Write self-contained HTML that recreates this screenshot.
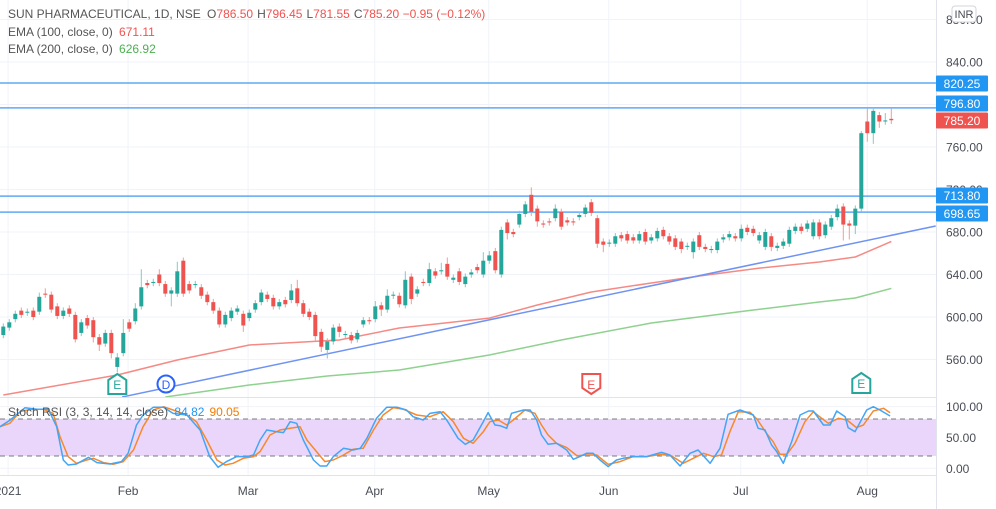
<!DOCTYPE html>
<html><head><meta charset="utf-8"><style>
html,body{margin:0;padding:0;background:#fff;overflow:hidden}
svg{display:block;font-family:"Liberation Sans",sans-serif}
</style></head><body>
<svg id="c" width="996" height="509" viewBox="0 0 996 509" xmlns="http://www.w3.org/2000/svg">
<defs>
<clipPath id="cp"><rect x="0" y="0" width="936" height="397"/></clipPath>
<clipPath id="cr"><rect x="0" y="399" width="936" height="76"/></clipPath>
</defs>
<g id="grid"></g>
<g id="rsiPane"></g>
<g id="pricePane" clip-path="url(#cp)"></g>
<g id="axes"></g>
<g id="legend">
<text x="8" y="18" font-size="12" fill="#555">SUN PHARMACEUTICAL, 1D, NSE <tspan dx="3">O</tspan><tspan fill="#ef5350">786.50</tspan><tspan dx="4">H</tspan><tspan fill="#ef5350">796.45</tspan><tspan dx="4">L</tspan><tspan fill="#ef5350">781.55</tspan><tspan dx="4">C</tspan><tspan fill="#ef5350">785.20 −0.95 (−0.12%)</tspan></text>
<text x="8" y="36" font-size="12" fill="#555">EMA (100, close, 0) <tspan dx="3" fill="#ef5350">671.11</tspan></text>
<text x="8" y="53" font-size="12" fill="#555">EMA (200, close, 0) <tspan dx="3" fill="#4caf50">626.92</tspan></text>
<text x="8" y="416" font-size="12" fill="#555">Stoch RSI (3, 3, 14, 14, close) <tspan dx="3" fill="#2196f3">84.82</tspan><tspan dx="5" fill="#f57c00">90.05</tspan></text>
</g>
</svg>
<script>
const opens=[583,590,598,606,604,606,605,622,621,610,601,608,602,585,599,597,581,575,585,553,566,595,596,610,632,632,640,631,622,622,653,631,630,628,621,614,606,593,599,605,603,599,607,614,621,618,610,616,616,627,613,605,602,586,569,577,591,583,583,579,593,597,598,611,607,620,620,611,638,622,633,632,643,643,650,635,643,631,640,647,640,653,662,640,689,680,687,697,715,702,688,690,693,699,691,690,694,697,708,693,671,669,669,677,678,675,672,680,672,674,682,676,674,671,666,661,677,666,663,663,673,675,676,674,684,683,672,666,676,665,667,669,681,685,683,676,689,677,685,694,704,688,686,702,784,773,790,784,786.5];
const closes=[591,595,603,602,605,600,619,621,607,601,606,603,579,595,592,581,574,585,566,562,585,589,608,628,630,633,632,622,625,643,622,625,631,620,614,606,593,602,606,608,592,604,613,623,617,610,614,612,625,613,603,600,582,572,577,590,586,584,578,585,597,596,610,607,620,621,612,635,617,626,632,645,639,644,638,637,633,638,642,644,653,658,644,682,679,678,697,706,699,690,687,689,702,685,689,689,696,703,698,669,668,670,676,674,672,672,678,671,675,681,676,671,666,664,667,671,666,664,664,671,675,678,674,683,680,679,677,680,666,667,671,682,685,681,688,689,676,687,693,702,687,686,702,773,773,794,784,785,785.2];
const wickUp=[3,3,3,3,3,3,4,5,3,3, 3,3,3,3,3,3,3,3,3,4, 13,3,5,17,3,3,5,3,3,9, 3,3,3,3,3,3,3,3,3,3, 3,3,3,3,3,3,3,3,6,8, 3,3,3,3,3,3,3,3,3,3, 3,3,5,3,6,3,3,8,3,3, 3,6,3,7,6,3,3,3,3,3, 8,4,3,3,3,3,3,3,7,3, 3,3,4,3,3,3,3,3,3,3, 3,3,3,3,3,3,3,3,3,3, 3,3,3,3,3,3,3,3,3,3, 3,3,3,4,3,3,3,3,3,3, 3,3,3,3,3,3,3,3,3,4, 3,3,3,2,12,3,3,7,10];
const wickDn=[3,3,3,3,3,3,3,3,3,3, 3,3,3,3,3,5,6,3,5,5, 3,3,3,3,3,3,3,3,12,3, 3,3,3,3,3,3,3,3,3,3, 6,3,3,3,3,3,3,3,3,3, 3,3,5,5,8,3,5,3,3,3, 3,3,3,6,3,3,3,3,5,3, 3,3,3,3,3,3,3,3,3,3, 3,3,3,3,6,3,3,3,4,5, 3,3,3,3,3,3,3,3,3,4, 7,3,3,3,3,3,3,3,3,3, 3,3,3,4,3,6,3,3,3,3, 3,3,3,3,3,3,3,3,4,3, 3,3,3,3,3,3,3,3,3,3, 15,13,8,3,8,10,6,3,3.6];
const ema100Idx=[1,20,30,42,57,67,82,90,99,109,117,127,137,143,149];
const ema100Val=[526.6,545.4,559.5,573.6,578.4,589.6,599,611.3,623.5,632,638.6,646,651.8,656.5,671.1];
const ema200Idx=[28,42,55,67,82,94,109,126,137,143,149];
const ema200Val=[524.7,536,544.5,550.1,564.2,578.4,594.4,606.6,614.1,617.9,626.9];
const trendIdx=[20.8,156.4];
const trendVal=[524.7,685.6];
const hLevels=[820.25,796.80,713.80,698.65];
const priceTicks=[880,840,800,760,720,680,640,600,560];
const kIdx=[0.45,2.1,4.6,6.6,8.5,9.9,11,11.8,13.2,15.2,16.6,18.8,20.7,21.8,23.2,24.3,26,27.7,29.3,31.6,33.8,35.4,36.8,38.2,39.9,41.6,42.7,43.8,44.9,46.6,47.7,48.8,49.9,51,52.7,53.8,54.9,56,57.7,59.3,60.5,61.6,63.2,64.9,66.6,68.2,69.3,71,72.1,73.8,74.9,76.8,78,79.3,81,81.8,82.95,83.8,84.9,85.7,87.7,88.8,89.9,90.7,91.8,93.2,94.9,96,97.1,98.2,99.3,100.45,101.8,103.2,104.3,106,108.2,110.7,112.1,113.8,115.45,116.8,118.8,120.45,121.8,123.8,126,126.8,127.95,129.05,129.9,131,132.4,133.8,135.2,136,137.7,138.8,139.9,141.3,141.8,142.95,144.9,146,147.1,148.8];
const kVal=[67.5,78,98,95.6,95.6,67.5,13.5,5.4,7,17.8,9.2,7,10.8,24.3,70.2,86.4,99,99,89,86.4,62,18.9,1.6,10.8,18.9,18.9,21.6,45.9,62,59.4,57.8,75.6,72.9,45.9,13.5,3.8,3.8,18.9,32.4,29.7,32.4,48.6,81,99,99,94.5,83.7,78.3,89,91.8,78.3,48.6,38.9,45.9,75.6,90.2,70.2,69.1,64.8,89.1,94.5,94.5,78.3,54,38.9,40.5,29.7,14.6,18.9,24.3,24.3,13.5,2.7,13.5,16.2,18.9,18.9,25.9,21.6,3.8,24.3,29.7,8.1,32.4,87.5,94.5,86.4,64.8,62.1,37.8,27,8.1,43.2,86.4,92.9,92.9,70.2,70.2,92.9,83.7,65.9,59.4,94.5,99.9,94.5,84.82];
const dIdx=[0.45,2.1,3.8,5.45,7.7,9.3,10.45,11.8,13.2,14.9,16,17.7,19.3,21,22.7,24.3,26,27.7,29.3,31.6,33.2,34.9,36.6,37.95,39.3,41,42.7,43.8,45.45,47.1,48.8,50.45,51.6,53.2,54.6,56,57.7,59.3,61,62.7,64.3,66,67.7,69.9,72.1,74.3,76,77.7,79.3,81,82.1,83.5,84.9,86,87.95,89.6,90.7,91.8,93.2,94.9,96.6,98.2,99.9,101.8,103.8,106,108.2,110.7,112.4,114.3,116,117.7,119.35,120.7,122.1,123.5,125.45,126.6,128.2,129.3,130.45,131.6,132.95,134.6,136,137.4,138.5,140.2,141.6,143.2,144.35,146,147.7,148.8];
const dVal=[67.5,72.9,91.8,95.6,95.6,89.1,51.3,18.9,8.1,13.5,16.2,9.2,6.5,10.8,29.7,67.5,94.5,99.9,94.5,86.4,75.6,45.9,13.5,5.4,8.1,16.2,18.9,27,54,62.1,64.8,67.5,45.9,27,10.8,13.5,21.6,30.8,32.4,62.1,86.4,98.3,95.6,86.4,83.7,91.8,75.6,48.6,40.5,59.4,75.6,78.3,70.2,78.3,94.5,89.1,70.2,54,40.5,33.5,20.5,21.6,21.6,6.5,10.8,18.9,18.9,22.7,20,8.1,16.2,24.3,18.9,21.6,59.4,91.8,90.7,79.9,56.7,43.2,22.7,22.7,40.5,75.6,91.8,81,72.9,81,78.3,65.9,70.2,92.9,97.2,90.05];
const rsiTicks=[100,50,0];
const months=["2021","Feb","Mar","Apr","May","Jun","Jul","Aug"];
const monthIdx=[1.8,21.8,41.8,62.9,81.9,101.9,123.9,145];

const NS="http://www.w3.org/2000/svg";
const X=i=>3.3+(i-1)*6;
const Y=p=>62+(840-p)*1.0625;
const RY=v=>468.3-v*0.617;
function mk(tag,attrs,parent){const e=document.createElementNS(NS,tag);for(const k in attrs)e.setAttribute(k,attrs[k]);parent.appendChild(e);return e;}
const grid=document.getElementById('grid'),pp=document.getElementById('pricePane'),rp=document.getElementById('rsiPane'),ax=document.getElementById('axes');

// grid
priceTicks.forEach(t=>{const l=mk('line',{x1:0,x2:936,y1:Y(t),y2:Y(t),stroke:'#f0f3fa','stroke-width':1},grid);

});
monthIdx.forEach(i=>{const l=mk('line',{x1:X(i),x2:X(i),y1:0,y2:475,stroke:'#f0f3fa','stroke-width':1},grid);

});
[100,50,0].forEach(v=>{const l=mk('line',{x1:0,x2:936,y1:RY(v),y2:RY(v),stroke:'#f0f3fa'},grid);

});

// rsi pane
const band=mk('rect',{x:0,y:RY(80),width:936,height:RY(20)-RY(80),fill:'#ead6fb'},rp);


[80,20].forEach(v=>{const l=mk('line',{x1:0,x2:936,y1:RY(v),y2:RY(v),stroke:'#787b86','stroke-dasharray':'5,4','stroke-width':1},rp);

});
const rg=mk('g',{'clip-path':'url(#cr)'},rp);
function poly(idx,val,fy,color,parent,name,w){const pts=idx.map((i,k)=>X(i).toFixed(1)+','+fy(val[k]).toFixed(1)).join(' ');
const p=mk('polyline',{points:pts,fill:'none',stroke:color,'stroke-width':w||1.5,'stroke-linejoin':'round'},parent);

return p;}
poly(dIdx,dVal,RY,'#f7892b',rg,'stoch-d-line');
poly(kIdx,kVal,RY,'#42a5f5',rg,'stoch-k-line');

// price pane lines
hLevels.forEach(h=>{const l=mk('line',{x1:0,x2:936,y1:Y(h),y2:Y(h),stroke:'#5fa8f5','stroke-width':1.5},pp);

});
poly(ema200Idx,ema200Val,Y,'#8fd18f',pp,'ema200-line');
poly(ema100Idx,ema100Val,Y,'#f58a84',pp,'ema100-line');
poly(trendIdx,trendVal,Y,'#6f93f2',pp,'trend-line');

// candles
opens.forEach((o,k)=>{const c=closes[k],i=k+1,up=c>=o,col=up?'#26a69a':'#ef5350';
const hi=Math.max(o,c)+wickUp[k],lo=Math.min(o,c)-wickDn[k];
const g=mk('g',{},pp);


mk('line',{x1:X(i),x2:X(i),y1:Y(hi),y2:Y(lo),stroke:up?'#7fcbc3':'#f59b99','stroke-width':1},g);
const top=Y(Math.max(o,c)),bh=Math.max(1,Y(Math.min(o,c))-top);
mk('rect',{x:X(i)-2,y:top,width:4,height:bh,fill:col},g);});

// event markers
function badge(x,y,col,pointUp,name){const g=mk('g',{},pp);


const d=pointUp?`M${x-9},${y+10} L${x-9},${y-4} L${x},${y-10} L${x+9},${y-4} L${x+9},${y+10} Z`:`M${x-9},${y-10} L${x+9},${y-10} L${x+9},${y+4} L${x},${y+10} L${x-9},${y+4} Z`;
mk('path',{d:d,fill:'#fff',stroke:col,'stroke-width':2},g);
const t=mk('text',{x:x,y:y+5,'font-size':12,fill:col,'text-anchor':'middle'},g);t.textContent='E';}
badge(X(20),384,'#26a69a',true,'earnings-marker');
badge(X(99),384,'#ef5350',false,'earnings-marker');
badge(X(144),383,'#26a69a',true,'earnings-marker');
const dg=mk('g',{},pp);


mk('circle',{cx:166,cy:384,r:8.5,fill:'#fff',stroke:'#2962ff','stroke-width':2},dg);
const dt=mk('text',{x:166,y:389,'font-size':12,fill:'#2962ff','text-anchor':'middle'},dg);dt.textContent='D';

// pane separators and axes
[[0,397.5,936,397.5],[0,475.5,936,475.5],[936.5,0,936.5,509]].forEach(s=>{const l=mk('line',{x1:s[0],y1:s[1],x2:s[2],y2:s[3],stroke:'#e0e3eb','stroke-width':1},ax);

});
priceTicks.forEach(t=>{const tx=mk('text',{x:946,y:Y(t)+4.5,'font-size':12,fill:'#4a4d57'},ax);tx.textContent=t.toFixed(2);

});
rsiTicks.forEach(t=>{const tx=mk('text',{x:946,y:RY(t)+4.5,'font-size':12,fill:'#4a4d57'},ax);tx.textContent=t.toFixed(2);

});
months.forEach((m,k)=>{const tx=mk('text',{x:X(monthIdx[k]),y:495,'font-size':12,fill:'#4a4d57','text-anchor':'middle'},ax);tx.textContent=m;

});
// price badges
const badgeVals=[820.25,796.80,785.20,713.80,698.65];
const badgeY=[83.5,103.5,120.5,195.5,213.5];
badgeVals.forEach((v,k)=>{const col=v===785.20?'#ef5350':'#2196f3';const g=mk('g',{},ax);


mk('rect',{x:936,y:badgeY[k]-8,width:52,height:16,rx:1,fill:col},g);
const t=mk('text',{x:962,y:badgeY[k]+4.5,'font-size':12,fill:'#fff','text-anchor':'middle'},g);t.textContent=v.toFixed(2);});
// INR
const ig=mk('g',{},ax);


mk('rect',{x:952,y:6,width:24,height:16,rx:3,fill:'#fff',stroke:'#d1d4dc'},ig);
const it=mk('text',{x:964,y:18,'font-size':11,fill:'#4a4d57','text-anchor':'middle'},ig);it.textContent='INR';
</script>
</body></html>
